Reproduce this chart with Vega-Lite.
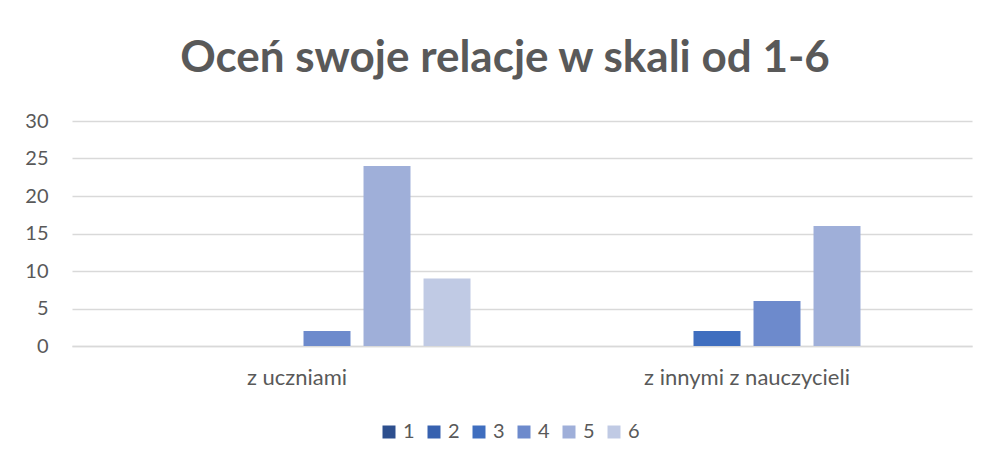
{
  "$schema": "https://vega.github.io/schema/vega-lite/v6.json",
  "width": 900,
  "height": 225,
  "autosize": {"type": "none"},
  "padding": {"left": 72, "top": 121, "right": 17, "bottom": 116},
  "background": "white",
  "title": {
    "text": "Oceń swoje relacje w skali od 1-6",
    "font": "Lato",
    "fontSize": 44,
    "fontWeight": "bold",
    "color": "#595959",
    "anchor": "middle",
    "dx": -17,
    "offset": 30
  },
  "data": {
    "values": [
      {"kategoria": "z uczniami", "ocena": "1", "liczba": 0},
      {"kategoria": "z uczniami", "ocena": "2", "liczba": 0},
      {"kategoria": "z uczniami", "ocena": "3", "liczba": 0},
      {"kategoria": "z uczniami", "ocena": "4", "liczba": 2},
      {"kategoria": "z uczniami", "ocena": "5", "liczba": 24},
      {"kategoria": "z uczniami", "ocena": "6", "liczba": 9},
      {"kategoria": "z innymi z nauczycieli", "ocena": "1", "liczba": 0},
      {"kategoria": "z innymi z nauczycieli", "ocena": "2", "liczba": 0},
      {"kategoria": "z innymi z nauczycieli", "ocena": "3", "liczba": 2},
      {"kategoria": "z innymi z nauczycieli", "ocena": "4", "liczba": 6},
      {"kategoria": "z innymi z nauczycieli", "ocena": "5", "liczba": 16},
      {"kategoria": "z innymi z nauczycieli", "ocena": "6", "liczba": 0}
    ]
  },
  "mark": {"type": "bar"},
  "encoding": {
    "x": {
      "field": "kategoria",
      "type": "nominal",
      "sort": null,
      "scale": {"paddingInner": 0, "paddingOuter": 0},
      "axis": {
        "title": null,
        "labelAngle": 0,
        "labelFont": "Lato",
        "labelFontSize": 22,
        "labelColor": "#595959",
        "labelPadding": 21,
        "labelLimit": 0,
        "ticks": false,
        "domainColor": "#D9D9D9",
        "domainWidth": 1.5
      }
    },
    "xOffset": {
      "field": "ocena",
      "type": "nominal",
      "scale": {"paddingInner": 0.217, "paddingOuter": 0.858}
    },
    "y": {
      "field": "liczba",
      "type": "quantitative",
      "scale": {"domain": [0, 30]},
      "axis": {
        "title": null,
        "values": [0, 5, 10, 15, 20, 25, 30],
        "labelFont": "Lato",
        "labelFontSize": 20,
        "labelColor": "#595959",
        "labelPadding": 24,
        "ticks": false,
        "domain": false,
        "gridColor": "#D9D9D9",
        "gridWidth": 1.5
      }
    },
    "color": {
      "field": "ocena",
      "type": "nominal",
      "scale": {
        "domain": ["1", "2", "3", "4", "5", "6"],
        "range": ["#2D4F8E", "#3761AF", "#3F6EBF", "#6D8ACC", "#9FAFD9", "#C0CAE4"]
      },
      "legend": {
        "title": null,
        "orient": "none",
        "direction": "horizontal",
        "legendX": 307,
        "legendY": 301,
        "symbolType": "square",
        "symbolSize": 169,
        "symbolStrokeWidth": 0,
        "labelFont": "Lato",
        "labelFontSize": 20,
        "labelColor": "#595959",
        "labelOffset": 4,
        "columnPadding": 9
      }
    }
  },
  "config": {"view": {"stroke": null}}
}
